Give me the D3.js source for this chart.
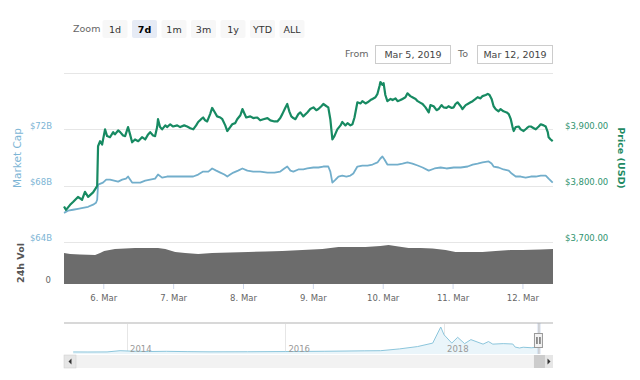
<!DOCTYPE html>
<html><head><meta charset="utf-8">
<script src="https://cdn.jsdelivr.net/npm/d3@7"></script>
<style>
html,body{margin:0;padding:0;background:#fff;}
svg{display:block;font-family:"DejaVu Sans",Verdana,sans-serif;}
</style></head>
<body><svg id="c" width="640" height="380"></svg>
<script>
// ---------- DATA ----------
const rangeStart = "2019-03-05T10:30:00Z";
const rangeEnd = "2019-03-12T10:30:00Z";
const zoomButtons = ["1d","7d","1m","3m","1y","YTD","ALL"];
const selectedButton = "7d";
const fromLabel = "Mar 5, 2019";
const toLabel = "Mar 12, 2019";
const capTicks = [64, 68, 72];
const priceTicks = [3700, 3800, 3900];
const priceGrid = [3700, 3800, 3900, 4000];
const dayTicks = ["2019-03-06","2019-03-07","2019-03-08","2019-03-09","2019-03-10","2019-03-11","2019-03-12"];
const navYears = ["2014-01-01","2016-01-01","2018-01-01"];

// price (USD), hours after rangeStart
const priceHours = [0,0.7,2.1,3.1,4.8,6.2,7.2,8.3,10.0,11.0,11.4,11.7,12.4,13.1,14.1,14.8,15.8,16.9,17.5,18.6,19.3,20.3,21.0,22.0,22.7,23.4,24.4,25.5,26.8,27.9,28.9,29.6,30.6,31.3,32.0,32.3,33.0,33.7,34.8,35.4,36.5,37.5,38.9,39.9,41.3,42.3,43.4,44.4,45.4,46.1,47.1,47.8,48.5,49.2,50.2,50.9,51.6,52.6,53.7,54.4,55.4,56.1,57.1,57.8,58.8,59.5,60.6,61.3,61.9,62.6,64.0,65.0,66.4,67.4,68.5,69.9,70.9,72.3,73.3,74.3,75.0,76.0,76.7,77.4,78.1,78.8,79.5,80.5,81.2,82.2,83.6,84.6,85.7,86.7,87.4,88.4,89.1,90.2,90.8,91.5,92.2,92.9,93.9,95.0,95.6,96.7,97.4,98.4,99.1,99.8,100.8,101.9,102.5,103.6,104.3,105.3,106.0,107.0,107.7,108.4,108.7,109.4,109.8,110.4,111.1,112.2,112.9,113.9,114.6,115.6,116.3,117.3,118.0,119.0,119.7,120.8,121.5,122.5,123.2,124.2,125.3,125.9,127.0,128.0,128.7,129.7,130.4,131.4,132.1,133.2,133.9,134.5,135.2,136.3,136.9,138.0,138.7,139.7,140.4,141.4,142.1,143.1,143.8,144.9,145.6,146.2,146.9,147.6,148.3,149.3,150.0,151.0,152.1,152.8,153.5,154.1,154.5,155.2,156.2,156.9,157.9,159.0,159.7,160.4,161.4,162.1,163.1,163.8,164.8,165.5,166.2,166.5,167.2,167.9];
const priceUSD = [3763,3757,3766,3771,3780,3775,3789,3780,3788,3796,3800,3870,3879,3873,3900,3888,3886,3895,3891,3898,3895,3889,3888,3904,3891,3877,3882,3879,3886,3882,3891,3895,3889,3888,3904,3918,3904,3900,3907,3904,3909,3905,3907,3904,3907,3905,3902,3900,3907,3913,3918,3921,3916,3914,3927,3938,3932,3923,3921,3918,3907,3897,3904,3909,3911,3918,3925,3936,3929,3921,3923,3920,3921,3916,3918,3920,3916,3914,3914,3920,3927,3938,3945,3932,3923,3920,3918,3927,3930,3923,3930,3936,3939,3934,3936,3941,3945,3941,3939,3918,3882,3888,3900,3907,3913,3907,3911,3907,3909,3921,3948,3946,3950,3946,3948,3952,3954,3957,3963,3977,3984,3979,3982,3961,3950,3954,3952,3955,3950,3952,3954,3957,3964,3959,3957,3954,3950,3947,3945,3939,3930,3943,3941,3934,3936,3943,3939,3938,3941,3938,3939,3945,3948,3941,3936,3943,3945,3948,3950,3954,3957,3955,3959,3961,3963,3961,3954,3941,3936,3932,3936,3932,3930,3927,3918,3904,3897,3904,3905,3900,3897,3902,3905,3905,3902,3900,3905,3909,3907,3905,3895,3886,3882,3879];

// market cap (billion USD)
const capHours = [0,1.4,3.1,4.8,6.5,8.3,10.0,11.0,11.4,11.7,13.4,14.5,15.8,17.2,18.6,20.0,21.3,22.0,22.7,23.4,24.8,26.2,27.9,29.6,31.3,32.3,33.7,35.4,37.5,39.9,42.3,44.4,46.1,47.8,49.6,50.9,52.3,53.7,55.1,56.1,57.1,58.2,59.8,61.3,63.0,65.0,67.4,69.9,72.3,74.3,75.7,76.7,77.8,78.8,80.5,82.2,83.6,85.7,87.4,89.1,90.8,91.5,92.2,93.3,94.3,95.6,97.0,98.4,99.4,100.8,102.5,104.3,106.0,107.7,108.7,109.4,110.1,111.1,112.9,114.6,116.3,118.0,119.7,121.5,123.2,125.3,127.3,129.4,131.4,133.9,136.3,138.7,140.4,142.1,143.8,145.9,146.9,147.6,149.3,151.0,152.8,153.8,155.2,156.9,158.6,160.4,162.1,163.8,165.5,166.5,167.9];
const capB = [66.07,66.22,66.29,66.36,66.43,66.5,66.65,66.79,67.0,68.07,68.22,68.43,68.43,68.36,68.29,68.43,68.5,68.65,68.43,68.22,68.22,68.22,68.36,68.43,68.5,68.79,68.57,68.65,68.65,68.65,68.65,68.65,68.79,69.0,69.0,69.22,69.07,68.93,68.79,68.65,68.79,68.93,69.07,69.22,69.07,69.0,69.0,68.93,68.93,69.0,69.22,69.36,69.07,69.0,69.15,69.15,69.22,69.29,69.29,69.36,69.36,69.0,68.22,68.43,68.65,68.72,68.65,68.72,68.86,69.36,69.43,69.43,69.5,69.65,69.93,70.07,69.86,69.5,69.5,69.5,69.57,69.65,69.57,69.43,69.29,69.07,69.22,69.29,69.22,69.29,69.29,69.36,69.5,69.57,69.65,69.72,69.57,69.36,69.29,69.15,69.07,68.86,68.65,68.65,68.57,68.65,68.65,68.72,68.72,68.5,68.22];

// 24h volume (billion USD)
const volHours = [0,2.1,5.5,10.7,12.4,13.8,17.5,24.4,32.3,34.8,38.2,41.6,46.1,50.9,57.1,63.3,69.2,75.0,81.9,88.8,94.3,98.4,103.6,108.7,111.5,114.9,118.4,122.5,126.6,131.1,134.5,139.7,143.8,148.3,153.5,157.6,163.8,168.0];
const volB = [8.86,8.57,8.43,8.29,8.86,9.43,10.0,10.29,10.29,10.0,9.14,8.86,8.57,8.86,9.0,9.14,9.29,9.43,9.71,10.0,10.57,10.57,10.57,10.86,11.14,10.71,10.29,10.29,10.14,9.71,9.14,9.14,9.14,9.43,9.71,9.71,9.86,10.0];

// navigator: full history of price (USD)
const navDates = ["2013-04-28","2013-07-05","2013-10-01","2013-11-30","2014-01-15","2014-04-10","2014-07-01","2014-10-05","2015-01-14","2015-07-10","2016-01-01","2016-07-01","2017-01-01","2017-03-15","2017-06-10","2017-09-01","2017-11-10","2017-12-17","2018-01-01","2018-02-06","2018-03-05","2018-04-06","2018-05-05","2018-06-30","2018-07-25","2018-08-14","2018-10-01","2018-11-14","2018-11-25","2018-12-15","2019-01-01","2019-02-07","2019-03-12"];
const navPrice = [135,90,140,1100,800,450,620,380,220,280,430,650,1000,1100,2500,4300,7000,19500,13500,7000,11500,6600,9700,6200,8200,6200,6600,6300,3900,3200,3800,3400,3870];

// ---------- DRAW ----------
const svg = d3.select("#c");
const L = 64, R = 553;
const t0 = new Date(rangeStart).getTime();
const hToDate = h => new Date(t0 + h*3600e3);

const x = d3.scaleUtc().domain([new Date(rangeStart), new Date(rangeEnd)]).range([L, R]);
const yPrice = d3.scaleLinear().domain([3700, 4000]).range([242, 73]);
const yCap = d3.scaleLinear().domain([64, 76]).range([242, 73]);
const yVol = d3.scaleLinear().domain([0, 12]).range([284, 242]);

const cPrice = "#178a62", cCap = "#72aecb", cVol = "#6c6c6c";

// range selector
svg.append("text").attr("x", 73).attr("y", 32).attr("font-size", 9.5).attr("fill", "#666").text("Zoom");
const btnX = d3.scalePoint().domain(zoomButtons).range([115, 292]);
const btn = svg.append("g").selectAll("g").data(zoomButtons).join("g")
  .attr("transform", d => `translate(${btnX(d)},0)`);
btn.append("rect").attr("x", -12.5).attr("y", 20).attr("width", 25).attr("height", 18).attr("rx", 2)
  .attr("fill", d => d === selectedButton ? "#e6ebf5" : "#f7f7f7");
btn.append("text").attr("y", 32.5).attr("text-anchor", "middle").attr("font-size", 9.5)
  .attr("font-weight", d => d === selectedButton ? "bold" : "normal")
  .attr("fill", d => d === selectedButton ? "#000" : "#333").text(d => d);

// from / to
svg.append("text").attr("x", 345).attr("y", 57).attr("font-size", 9.5).attr("fill", "#666").text("From");
svg.append("rect").attr("x", 375.5).attr("y", 45.5).attr("width", 75).attr("height", 18).attr("fill", "#fff").attr("stroke", "#ccc");
svg.append("text").attr("x", 413).attr("y", 58).attr("text-anchor", "middle").attr("font-size", 9.5).attr("fill", "#444").text(fromLabel);
svg.append("text").attr("x", 458).attr("y", 57).attr("font-size", 9.5).attr("fill", "#666").text("To");
svg.append("rect").attr("x", 477.5).attr("y", 45.5).attr("width", 75).attr("height", 18).attr("fill", "#fff").attr("stroke", "#ccc");
svg.append("text").attr("x", 515).attr("y", 58).attr("text-anchor", "middle").attr("font-size", 9.5).attr("fill", "#444").text(toLabel);

// grid lines
svg.append("g").selectAll("line").data(priceGrid).join("line")
  .attr("x1", L).attr("x2", R).attr("y1", d => Math.round(yPrice(d)) + 0.5).attr("y2", d => Math.round(yPrice(d)) + 0.5)
  .attr("stroke", "#e6e6e6");

// volume area
const volData = volHours.map((h, i) => ({t: hToDate(h), v: volB[i]}));
svg.append("path").datum(volData)
  .attr("d", d3.area().x(d => x(d.t)).y0(yVol(0)).y1(d => yVol(d.v)).curve(d3.curveLinear))
  .attr("fill", cVol);

// market cap line
const capData = capHours.map((h, i) => ({t: hToDate(h), v: capB[i]}));
svg.append("path").datum(capData)
  .attr("d", d3.line().x(d => x(d.t)).y(d => yCap(d.v)))
  .attr("fill", "none").attr("stroke", cCap).attr("stroke-width", 1.8).attr("stroke-linejoin", "round");

// price line
const priceData = priceHours.map((h, i) => ({t: hToDate(h), v: priceUSD[i]}));
svg.append("path").datum(priceData)
  .attr("d", d3.line().x(d => x(d.t)).y(d => yPrice(d.v)))
  .attr("fill", "none").attr("stroke", cPrice).attr("stroke-width", 2.2).attr("stroke-linejoin", "round");

// x axis
const xAxis = d3.axisBottom(x).tickValues(dayTicks.map(d => new Date(d + "T00:00:00Z")))
  .tickSize(5).tickFormat(d => d3.utcFormat("%-d. %b")(d));
const gx = svg.append("g").attr("transform", "translate(0,284)").call(xAxis);
gx.select(".domain").remove();
gx.selectAll("line").attr("stroke", "#ccd6eb");
gx.selectAll("text").attr("font-size", 8.5).attr("fill", "#666").attr("dy", "1.05em").attr("font-family", "DejaVu Sans");

// left axis (market cap)
const gl = svg.append("g").attr("transform", `translate(52,0)`)
  .call(d3.axisLeft(yCap).tickValues(capTicks).tickSize(0).tickFormat(d => "$" + d + "B"));
gl.select(".domain").remove();
gl.selectAll("text").attr("font-size", 8.5).attr("fill", "#7cb5d5").attr("x", 0).attr("dy", "-0.15em").attr("font-family", "DejaVu Sans");

// volume axis
const gv = svg.append("g").attr("transform", `translate(51,0)`)
  .call(d3.axisLeft(yVol).tickValues([0]).tickSize(0));
gv.select(".domain").remove();
gv.selectAll("text").attr("font-size", 8.5).attr("fill", "#666").attr("x", 0).attr("dy", "-0.15em").attr("font-family", "DejaVu Sans");

// right axis (price)
const gr = svg.append("g").attr("transform", `translate(565,0)`)
  .call(d3.axisRight(yPrice).tickValues(priceTicks).tickSize(0).tickFormat(d => "$" + d3.format(",.2f")(d)));
gr.select(".domain").remove();
gr.selectAll("text").attr("font-size", 8.5).attr("fill", "#2f9470").attr("x", 0).attr("dy", "-0.15em").attr("font-family", "DejaVu Sans");

// axis titles
svg.append("text").attr("transform", "translate(21,158) rotate(-90)").attr("text-anchor", "middle")
  .attr("font-size", 10.5).attr("fill", "#7cb5d5").text("Market Cap");
svg.append("text").attr("transform", "translate(24,263) rotate(-90)").attr("text-anchor", "middle")
  .attr("font-size", 9.5).attr("font-weight", "bold").attr("fill", "#555").text("24h Vol");
svg.append("text").attr("transform", "translate(618,158) rotate(90)").attr("text-anchor", "middle")
  .attr("font-size", 9.5).attr("font-weight", "bold").attr("fill", "#1f8a63").text("Price (USD)");

// ---------- NAVIGATOR ----------
const navTop = 323, navBot = 354;
const nx = d3.scaleUtc().domain([new Date(navYears[0]), new Date(navYears[2])]).range([127, 444]);
const ny = d3.scaleLinear().domain([d3.min(navPrice), d3.max(navPrice)]).range([352, 327]);
const navData = navDates.map((d, i) => ({t: new Date(d), v: navPrice[i]}));

svg.append("g").selectAll("line").data(navYears).join("line")
  .attr("x1", d => Math.round(nx(new Date(d))) + 0.5).attr("x2", d => Math.round(nx(new Date(d))) + 0.5)
  .attr("y1", navTop).attr("y2", navBot).attr("stroke", "#e6e6e6");
svg.append("path").datum(navData)
  .attr("d", d3.area().x(d => nx(d.t)).y0(navBot).y1(d => ny(d.v)))
  .attr("fill", "#eaf5fa");
svg.append("path").datum(navData)
  .attr("d", d3.line().x(d => nx(d.t)).y(d => ny(d.v)))
  .attr("fill", "none").attr("stroke", "#8cc6dc").attr("stroke-width", 1);
svg.append("g").selectAll("text").data(navYears).join("text")
  .attr("x", d => nx(new Date(d)) + 3).attr("y", 352).attr("font-size", 8.5).attr("fill", "#999")
  .text(d => d.slice(0, 4));
svg.append("line").attr("x1", L).attr("x2", R).attr("y1", navTop).attr("y2", navTop).attr("stroke", "#d8d8d8").attr("stroke-width", 2);

// scrollbar
svg.append("rect").attr("x", L).attr("y", 355).attr("width", R - L).attr("height", 13).attr("fill", "#f2f2f2");
svg.append("rect").attr("x", L).attr("y", 355).attr("width", 12).attr("height", 13).attr("fill", "#e6e6e6").attr("stroke", "#ccc").attr("stroke-width", 0.5);
svg.append("path").attr("d", `M${L+7.5},358.5 L${L+7.5},364.5 L${L+4.5},361.5 Z`).attr("fill", "#333");
const selX = nx(new Date(rangeStart));
svg.append("rect").attr("x", selX - 3).attr("y", 355).attr("width", 11).attr("height", 13).attr("fill", "#cccccc");
svg.append("rect").attr("x", R - 8).attr("y", 355).attr("width", 8).attr("height", 13).attr("fill", "#e6e6e6");
svg.append("path").attr("d", `M${R-5.5},358.5 L${R-5.5},364.5 L${R-2.5},361.5 Z`).attr("fill", "#333");
// selected range mask + handle
svg.append("rect").attr("x", selX).attr("y", navTop).attr("width", 4).attr("height", navBot - navTop).attr("fill", "rgba(102,133,194,0.15)");
svg.append("line").attr("x1", selX + 2).attr("x2", selX + 2).attr("y1", navTop).attr("y2", navBot).attr("stroke", "#bbb");
svg.append("rect").attr("x", selX - 2.5).attr("y", 333.5).attr("width", 8).attr("height", 14).attr("fill", "#f2f2f2").attr("stroke", "#999");
svg.append("line").attr("x1", selX).attr("x2", selX).attr("y1", 337).attr("y2", 344).attr("stroke", "#333");
svg.append("line").attr("x1", selX + 3).attr("x2", selX + 3).attr("y1", 337).attr("y2", 344).attr("stroke", "#333");
</script></body></html>
